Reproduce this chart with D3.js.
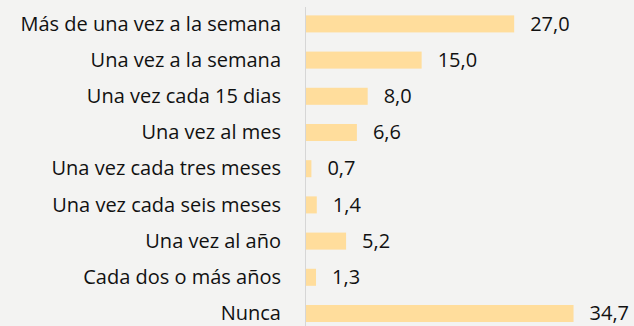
<!DOCTYPE html>
<html>
<head>
<meta charset="utf-8">
<script src="https://cdn.jsdelivr.net/npm/d3@7"></script>
<style>
  html, body { margin: 0; padding: 0; background: #f3f3f2; }
  svg { display: block; }
</style>
</head>
<body>
<svg id="chart" width="634" height="326"></svg>
<script>
// Frecuencia de la actividad (%)
const categories = [
  "Más de una vez a la semana",
  "Una vez a la semana",
  "Una vez cada 15 dias",
  "Una vez al mes",
  "Una vez cada tres meses",
  "Una vez cada seis meses",
  "Una vez al año",
  "Cada dos o más años",
  "Nunca"
];
const values = [27.0, 15.0, 8.0, 6.6, 0.7, 1.4, 5.2, 1.3, 34.7];
const valueLabels = ["27,0", "15,0", "8,0", "6,6", "0,7", "1,4", "5,2", "1,3", "34,7"];

const W = 634, H = 326;
const svg = d3.select("#chart");

svg.append("rect").attr("width", W).attr("height", H).attr("fill", "#f3f3f2");

const x = d3.scaleLinear().domain([0, 40]).range([306, 614.4]);
const y = d3.scaleBand()
  .domain(categories)
  .range([5.8, 331.6])
  .paddingInner(0.53)
  .paddingOuter(0.265);

const font = "'Open Sans', sans-serif";
const fontSize = 20;

// vertical category axis line
svg.append("line")
  .attr("x1", 305.5).attr("x2", 305.5)
  .attr("y1", 7).attr("y2", H)
  .attr("stroke", "#d6d6d6").attr("stroke-width", 1);

// bars
svg.append("g").selectAll("rect")
  .data(values)
  .join("rect")
  .attr("x", x(0))
  .attr("y", (d, i) => y(categories[i]))
  .attr("width", d => x(d) - x(0))
  .attr("height", y.bandwidth())
  .attr("fill", "#ffdd9c");

// category labels
svg.append("g").selectAll("text")
  .data(categories)
  .join("text")
  .attr("x", 281)
  .attr("y", d => y(d) + y.bandwidth() / 2)
  .attr("dy", "0.33em")
  .attr("text-anchor", "end")
  .attr("font-family", font)
  .attr("font-size", fontSize)
  .attr("fill", "#111")
  .text(d => d);

// value labels
svg.append("g").selectAll("text")
  .data(values)
  .join("text")
  .attr("x", d => x(d) + 16)
  .attr("y", (d, i) => y(categories[i]) + y.bandwidth() / 2)
  .attr("dy", "0.33em")
  .attr("font-family", font)
  .attr("font-size", fontSize)
  .attr("fill", "#111")
  .text((d, i) => valueLabels[i]);
</script>
</body>
</html>
